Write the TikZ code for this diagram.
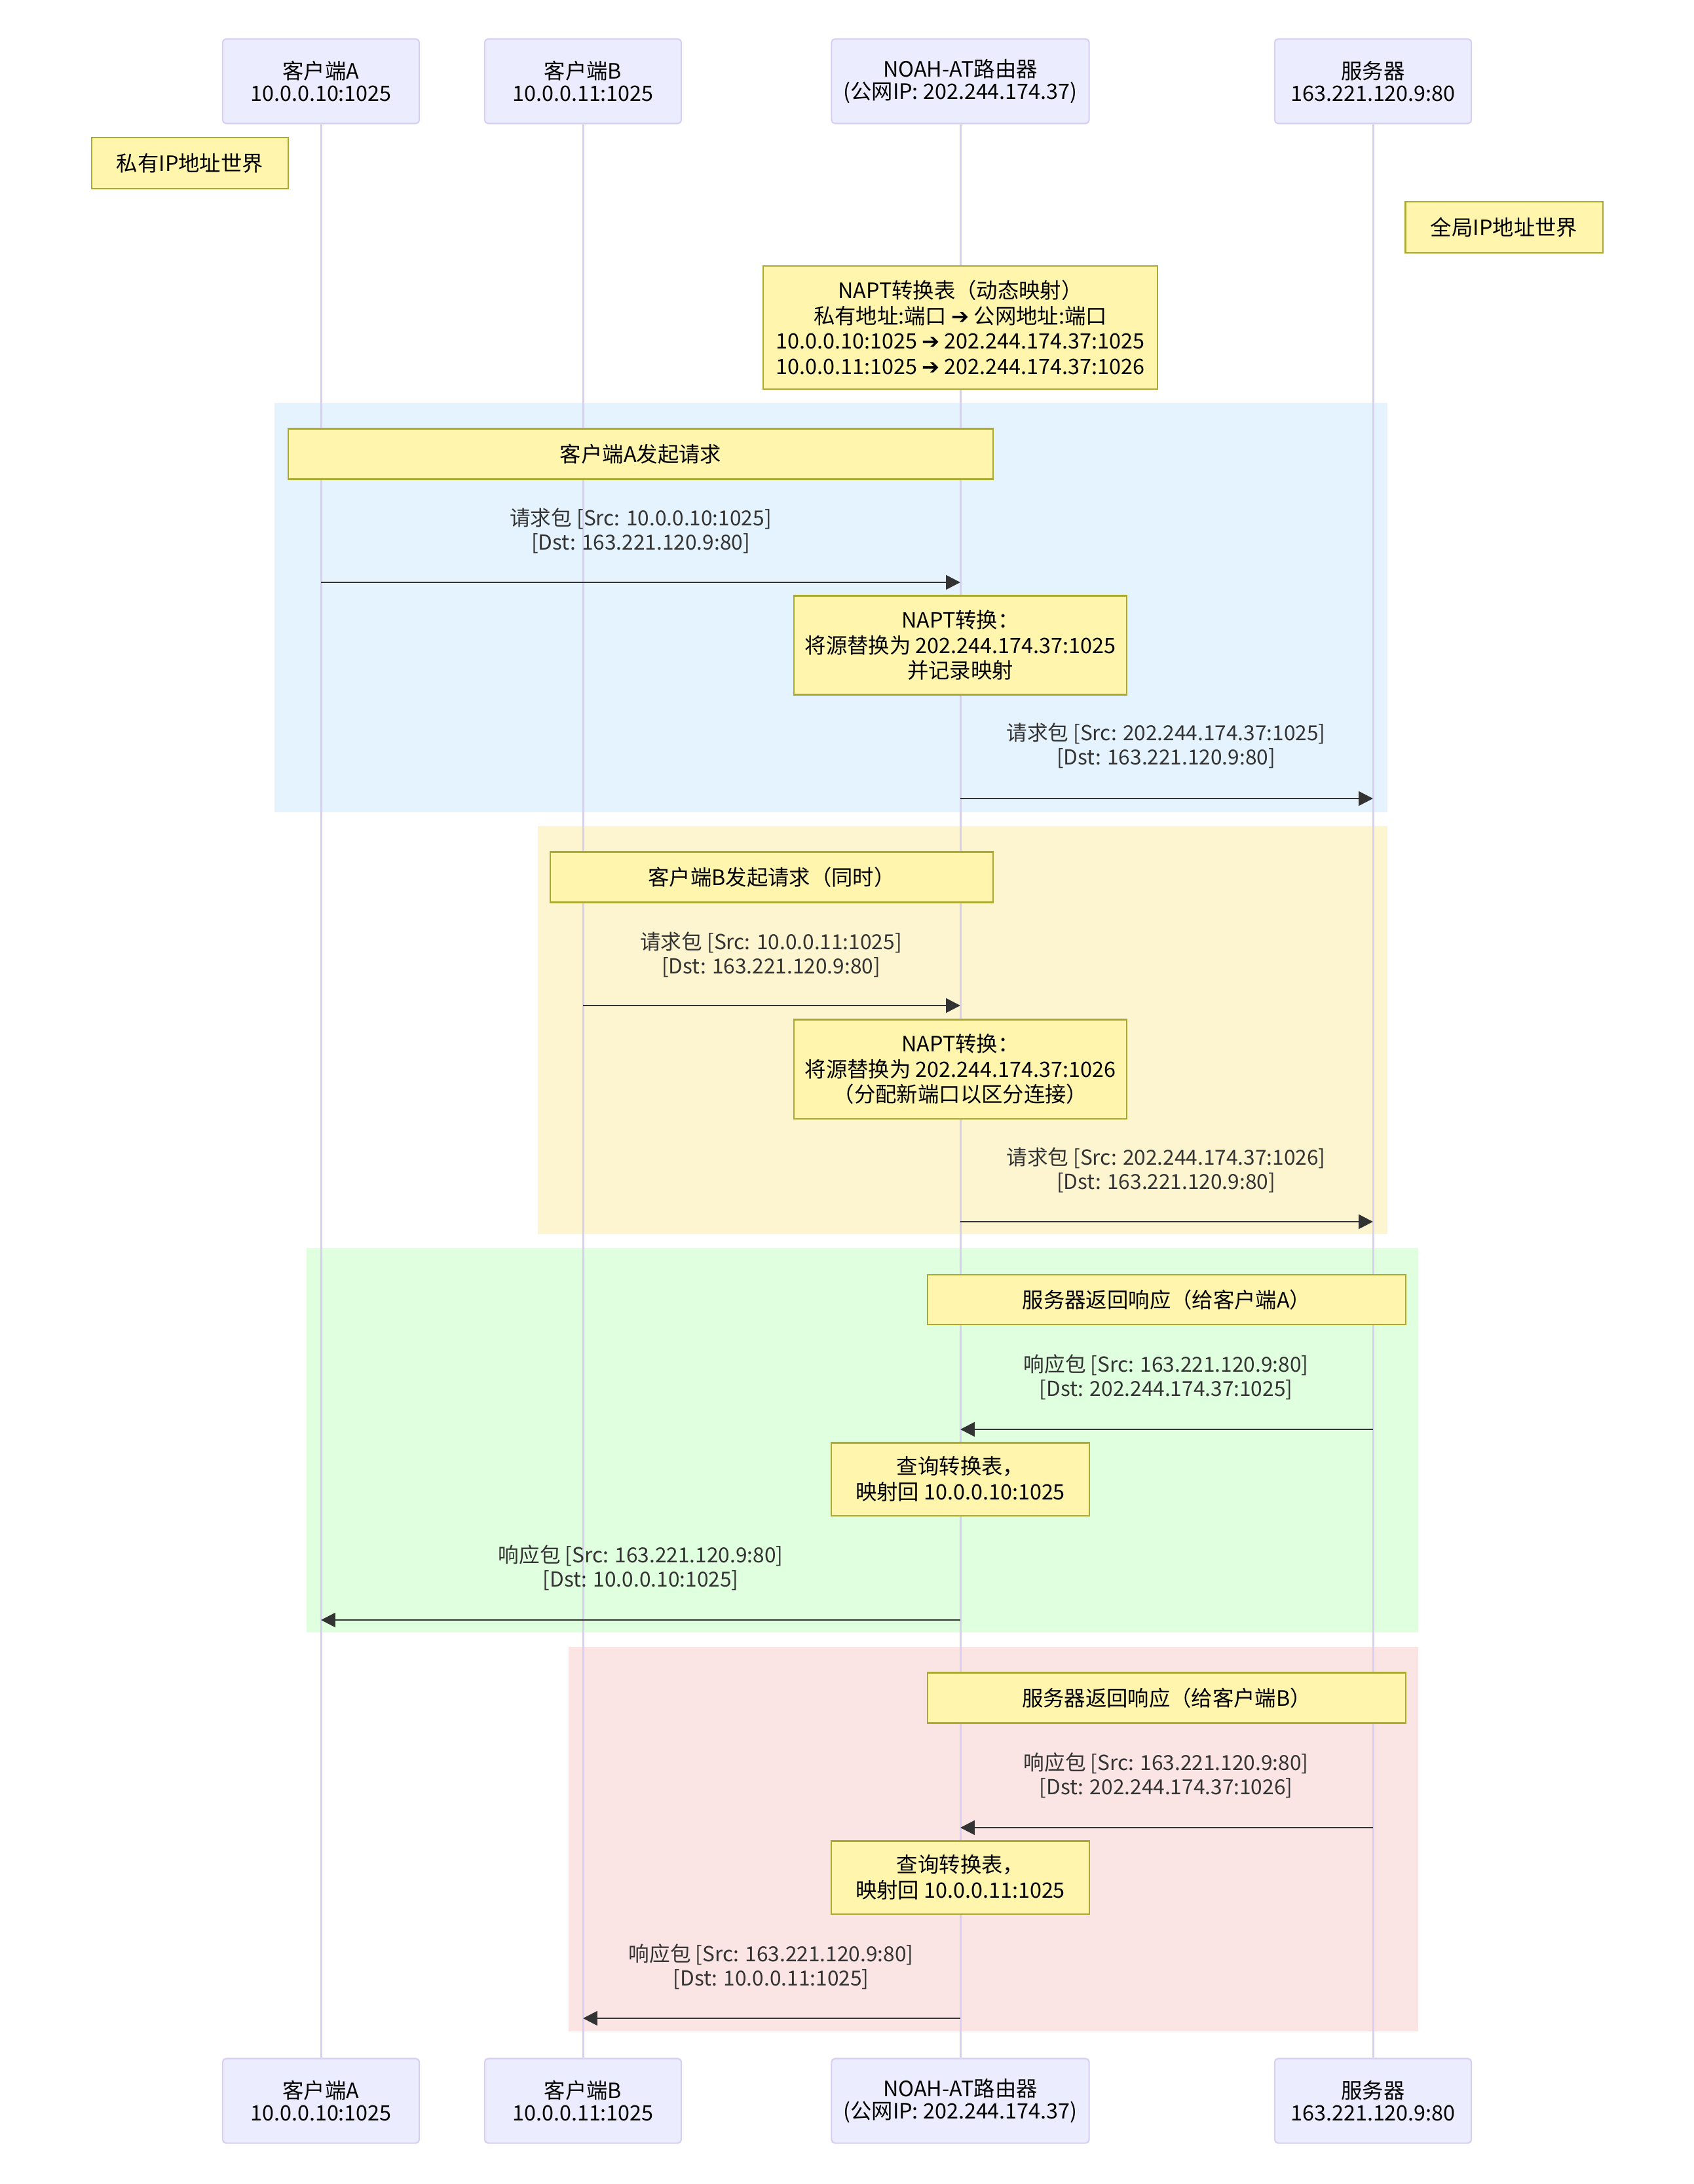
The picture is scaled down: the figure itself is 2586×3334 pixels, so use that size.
\documentclass[tikz,border=0pt]{standalone}
\usepackage{fontspec}
\setmainfont{Noto Sans CJK SC}
\newfontfamily\arrowfont{DejaVu Sans}
\usepackage{tikz}
\usetikzlibrary{arrows.meta, positioning}

\definecolor{actorfill}{HTML}{ECECFF}
\definecolor{actorline}{HTML}{D8CDF3}
\definecolor{notefill}{HTML}{FFF5AD}
\definecolor{noteline}{HTML}{AAAA33}
\definecolor{msgcol}{HTML}{333333}
\definecolor{bandblue}{HTML}{E4F3FE}
\definecolor{bandyellow}{HTML}{FDF5D0}
\definecolor{bandgreen}{HTML}{DFFFDF}
\definecolor{bandred}{HTML}{FBE4E4}

\newcommand{\tto}{{\arrowfont ➔}}

\begin{document}
\begin{tikzpicture}[
  x=0.01cm, y=-0.01cm,
  >={Triangle[length=6.2pt, width=6.2pt]},
  actor/.style={draw=actorline, fill=actorfill, line width=0.6pt,
    rounded corners=1.5pt, minimum width=3cm, minimum height=1.29cm,
    inner sep=0pt, align=center, font=\fontsize{9.2}{9.8}\selectfont},
  note/.style={draw=noteline, fill=notefill, line width=0.6pt,
    inner sep=0pt, align=center, font=\fontsize{9.2}{11}\selectfont},
  lifeline/.style={actorline, line width=0.85pt},
  msg/.style={->, msgcol, line width=0.75pt},
  msglabel/.style={text=msgcol, align=center, inner sep=0pt,
    font=\fontsize{9}{10.6}\selectfont}
]
\useasboundingbox (0,0) rectangle (2586,3334);

% Phase backgrounds
\fill[bandblue] (419,615) rectangle (2118,1240);
\fill[bandyellow] (821,1261) rectangle (2118,1884);
\fill[bandgreen] (468,1905) rectangle (2165,2492);
\fill[bandred] (868,2514) rectangle (2165,3101);

% Actors (top and bottom)
\node[actor] (cliA) at (490,124) {客户端A\\10.0.0.10:1025};
\node[actor] (cliB) at (890,124) {客户端B\\10.0.0.11:1025};
\node[actor, minimum width=3.93cm] (router) at (1466,124) {NOAH-AT路由器\\(公网IP: 202.244.174.37)};
\node[actor] (server) at (2096,124) {服务器\\163.221.120.9:80};

\node[actor] (cliAb) at (490,3207) {客户端A\\10.0.0.10:1025};
\node[actor] (cliBb) at (890,3207) {客户端B\\10.0.0.11:1025};
\node[actor, minimum width=3.93cm] (routerb) at (1466,3207) {NOAH-AT路由器\\(公网IP: 202.244.174.37)};
\node[actor] (serverb) at (2096,3207) {服务器\\163.221.120.9:80};

% Lifelines
\draw[lifeline] (cliA) -- (cliAb);
\draw[lifeline] (cliB) -- (cliBb);
\draw[lifeline] (router) -- (routerb);
\draw[lifeline] (server) -- (serverb);

% Side notes and table
\node[note, minimum width=3cm, minimum height=0.78cm] (pvtnote) at (290,249) {私有IP地址世界};
\node[note, minimum width=3.01cm, minimum height=0.78cm] (pubnote) at (2296,347) {全局IP地址世界};
\node[note, minimum width=6.02cm, minimum height=1.88cm] (table) at (1466,500)
  {NAPT转换表（动态映射）\\私有地址:端口 \tto{} 公网地址:端口\\10.0.0.10:1025 \tto{} 202.244.174.37:1025\\10.0.0.11:1025 \tto{} 202.244.174.37:1026};

% Client A request
\node[note, minimum width=10.76cm, minimum height=0.77cm] (reqA) at (978,693) {客户端A发起请求};
\coordinate (m1a) at (cliA |- 0,889);
\coordinate (m1r) at (router |- 0,889);
\draw[msg] (m1a) -- (m1r);
\node[msglabel] (l1) at (978,810) {请求包 [Src: 10.0.0.10:1025]\\{}[Dst: 163.221.120.9:80]};
\node[note, minimum width=5.08cm, minimum height=1.51cm] (nat1) at (1466,985)
  {NAPT转换：\\将源替换为 202.244.174.37:1025\\并记录映射};
\coordinate (m2r) at (router |- 0,1219);
\coordinate (m2s) at (server |- 0,1219);
\draw[msg] (m2r) -- (m2s);
\node[msglabel] (l2) at (1780,1138) {请求包 [Src: 202.244.174.37:1025]\\{}[Dst: 163.221.120.9:80]};

% Client B request
\node[note, minimum width=6.76cm, minimum height=0.77cm] (reqB) at (1178,1339) {客户端B发起请求（同时）};
\coordinate (m3b) at (cliB |- 0,1535);
\coordinate (m3r) at (router |- 0,1535);
\draw[msg] (m3b) -- (m3r);
\node[msglabel] (l3) at (1177,1457) {请求包 [Src: 10.0.0.11:1025]\\{}[Dst: 163.221.120.9:80]};
\node[note, minimum width=5.08cm, minimum height=1.51cm] (nat2) at (1466,1632)
  {NAPT转换：\\将源替换为 202.244.174.37:1026\\（分配新端口以区分连接）};
\coordinate (m4r) at (router |- 0,1865);
\coordinate (m4s) at (server |- 0,1865);
\draw[msg] (m4r) -- (m4s);
\node[msglabel] (l4) at (1780,1786) {请求包 [Src: 202.244.174.37:1026]\\{}[Dst: 163.221.120.9:80]};

% Response to client A
\node[note, minimum width=7.30cm, minimum height=0.76cm] (resA) at (1781,1984) {服务器返回响应（给客户端A）};
\coordinate (m5s) at (server |- 0,2182);
\coordinate (m5r) at (router |- 0,2182);
\draw[msg] (m5s) -- (m5r);
\node[msglabel] (l5) at (1780,2102) {响应包 [Src: 163.221.120.9:80]\\{}[Dst: 202.244.174.37:1025]};
\node[note, minimum width=3.93cm, minimum height=1.11cm] (look1) at (1466,2258)
  {查询转换表，\\映射回 10.0.0.10:1025};
\coordinate (m6r) at (router |- 0,2473);
\coordinate (m6a) at (cliA |- 0,2473);
\draw[msg] (m6r) -- (m6a);
\node[msglabel] (l6) at (978,2393) {响应包 [Src: 163.221.120.9:80]\\{}[Dst: 10.0.0.10:1025]};

% Response to client B
\node[note, minimum width=7.30cm, minimum height=0.77cm] (resB) at (1781,2592) {服务器返回响应（给客户端B）};
\coordinate (m7s) at (server |- 0,2790);
\coordinate (m7r) at (router |- 0,2790);
\draw[msg] (m7s) -- (m7r);
\node[msglabel] (l7) at (1780,2710) {响应包 [Src: 163.221.120.9:80]\\{}[Dst: 202.244.174.37:1026]};
\node[note, minimum width=3.93cm, minimum height=1.11cm] (look2) at (1466,2866)
  {查询转换表，\\映射回 10.0.0.11:1025};
\coordinate (m8r) at (router |- 0,3081);
\coordinate (m8b) at (cliB |- 0,3081);
\draw[msg] (m8r) -- (m8b);
\node[msglabel] (l8) at (1177,3002) {响应包 [Src: 163.221.120.9:80]\\{}[Dst: 10.0.0.11:1025]};

\end{tikzpicture}
\end{document}
